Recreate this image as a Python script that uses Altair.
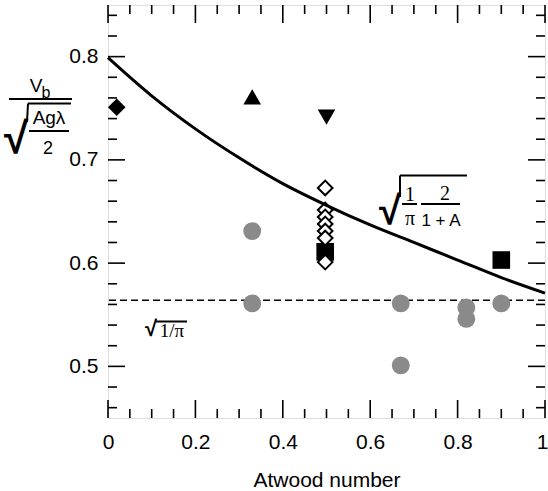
import altair as alt
import pandas as pd

# Model curve sqrt((1/pi) * 2/(1+A)) as drawn along the Atwood number
curve_A = [0.0, 0.1, 0.2, 0.3, 0.4, 0.5, 0.6, 0.7, 0.8, 0.9, 1.0]
curve_v = [0.799, 0.762, 0.730, 0.702, 0.677, 0.656, 0.637, 0.620, 0.603, 0.586, 0.571]

# Asymptotic value sqrt(1/pi)
limit_v = 0.564

# Grey circles
circle_A = [0.33, 0.33, 0.67, 0.67, 0.82, 0.82, 0.90]
circle_v = [0.631, 0.561, 0.561, 0.501, 0.557, 0.546, 0.561]

# Solid black symbols
solid_A = [0.02, 0.33, 0.50, 0.497, 0.90]
solid_v = [0.751, 0.761, 0.7415, 0.611, 0.603]
solid_shape = ["diamond", "triangle-up", "triangle-down", "square", "square"]

# Open diamonds
open_A = [0.497, 0.497, 0.497, 0.497, 0.497, 0.497, 0.497]
open_v = [0.6728, 0.6515, 0.6447, 0.6379, 0.6311, 0.6243, 0.601]

# Axis ticks
x_major = [0.0, 0.2, 0.4, 0.6, 0.8, 1.0]
x_minor = [0.05, 0.1, 0.15, 0.25, 0.3, 0.35, 0.45, 0.5, 0.55, 0.65, 0.7, 0.75, 0.85, 0.9, 0.95]
y_major = [0.5, 0.6, 0.7, 0.8]
y_minor = [0.46, 0.48, 0.52, 0.54, 0.56, 0.58, 0.62, 0.64, 0.66, 0.68,
           0.72, 0.74, 0.76, 0.78, 0.82, 0.84]

W, H = 437, 413
FONT = "Liberation Sans"
SERIF = "Liberation Serif"
ROOT_FONT = "Liberation Sans"

xs = alt.Scale(domain=[0, 1], nice=False, zero=False)
ys = alt.Scale(domain=[0.45, 0.85], nice=False, zero=False)

# the last x label sits against the right edge of the page
x_axis = alt.Axis(values=x_major, format="~g", tickSize=0, domain=False, grid=False,
                  labelFont=FONT, labelFontSize=21, labelColor="black", labelPadding=13,
                  labelAlign={"condition": {"test": "datum.value == 1", "value": "right"},
                              "value": "center"},
                  labelOffset={"condition": {"test": "datum.value == 1", "value": 3},
                               "value": 0},
                  title="Atwood number", titleFont=FONT, titleFontSize=21,
                  titleFontWeight="normal", titleColor="black", titlePadding=17,
                  labelFlush=False)
y_axis = alt.Axis(values=y_major, format=".1f", tickSize=0, domain=False, grid=False,
                  labelFont=FONT, labelFontSize=21, labelColor="black", labelPadding=10,
                  title=None)


def X(field="A"):
    return alt.X(f"{field}:Q", scale=xs, axis=x_axis)


def Y(field="v"):
    return alt.Y(f"{field}:Q", scale=ys, axis=y_axis)


curve_df = pd.DataFrame({"A": curve_A, "v": curve_v})
circ_df = pd.DataFrame({"A": circle_A, "v": circle_v})
solid_df = pd.DataFrame({"A": solid_A, "v": solid_v, "shape": solid_shape})
open_df = pd.DataFrame({"A": open_A, "v": open_v})

dashed = alt.Chart(pd.DataFrame({"v": [limit_v]})).mark_rule(
    color="black", strokeWidth=1.6, strokeDash=[7, 4]
).encode(y=Y())

circles = alt.Chart(circ_df).mark_point(
    shape="circle", filled=True, color="#8a8a8a", opacity=1, size=320
).encode(x=X(), y=Y())

solids = alt.Chart(solid_df).mark_point(
    filled=True, color="black", opacity=1, size=310
).encode(x=X(), y=Y(), shape=alt.Shape("shape:N", scale=None, legend=None))

opens = alt.Chart(open_df).mark_point(
    shape="diamond", filled=True, fill="white", stroke="black", strokeWidth=2,
    opacity=1, fillOpacity=1, size=215
).encode(x=X(), y=Y())

curve = alt.Chart(curve_df).mark_line(
    color="black", strokeWidth=3, interpolate="monotone"
).encode(x=X(), y=Y())


def tick_layer(values, orient, length):
    c = alt.Chart(pd.DataFrame({"A": values, "v": values})).mark_rule(
        color="black", strokeWidth=1.6)
    if orient == "bottom":
        return c.encode(x=X(), y=alt.value(H), y2=alt.value(H - length))
    if orient == "top":
        return c.encode(x=X(), y=alt.value(0), y2=alt.value(length))
    if orient == "left":
        return c.encode(y=Y(), x=alt.value(0), x2=alt.value(length))
    return c.encode(y=Y(), x=alt.value(W), x2=alt.value(W - length))


ticks = []
for side in ["bottom", "top"]:
    ticks.append(tick_layer(x_major, side, 18))
    ticks.append(tick_layer(x_minor, side, 9))
for side in ["left", "right"]:
    ticks.append(tick_layer(y_major, side, 17))
    ticks.append(tick_layer(y_minor, side, 9))


def label(text, x, y, size=18, font=FONT, weight="normal", align="center"):
    return alt.Chart(pd.DataFrame({"s": [text]})).mark_text(
        font=font, fontSize=size, fontWeight=weight, align=align,
        baseline="alphabetic", color="black"
    ).encode(text="s:N", x=alt.value(x), y=alt.value(y))


def bar(x1, x2, y, width=2):
    return alt.Chart(pd.DataFrame({"k": [0]})).mark_rule(
        color="black", strokeWidth=width
    ).encode(x=alt.value(x1), x2=alt.value(x2), y=alt.value(y))


def stroke(x1, y1, x2, y2, width=2):
    # straight pen stroke, used to lengthen the radical signs
    return alt.Chart(pd.DataFrame({"k": [0]})).mark_rule(
        color="black", strokeWidth=width
    ).encode(x=alt.value(x1), y=alt.value(y1), x2=alt.value(x2), y2=alt.value(y2))


# y-axis title: V_b / sqrt(A g lambda / 2)
ytitle = [
    label("V", -72, 87, 19),
    label("b", -62, 93, 16),
    bar(-99, -36, 94),
    label("√", -92, 148, 44, ROOT_FONT, "bold"),
    stroke(-81, 117, -80, 98.5),
    bar(-80, -37, 98.5),
    label("Agλ", -59, 119, 19),
    bar(-79, -39, 126),
    label("2", -60, 149, 18),
]

# curve annotation: sqrt( (1/pi) (2/(1+A)) )
curve_note = [
    label("√", 282, 219, 40, ROOT_FONT, "bold"),
    stroke(292, 192, 292, 170.5),
    bar(292, 359, 170.5),
    label("1", 302, 196, 20, SERIF),
    bar(294, 309, 199),
    label("π", 302, 220, 20, SERIF),
    label("2", 337, 195, 20, SERIF),
    bar(313, 352, 199),
    label("1 + A", 333, 221, 17, FONT),
]

# limit annotation: sqrt(1/pi)
limit_note = [
    label("√", 43, 331, 22, ROOT_FONT, "bold"),
    bar(48, 79, 316.5),
    label("1/π", 64, 332, 19, SERIF),
]

chart = alt.layer(
    dashed, circles, solids, opens, curve, *ticks,
    *ytitle, *curve_note, *limit_note
).properties(
    width=W, height=H,
    autosize=alt.AutoSizeParams(type="none"),
    padding={"left": 108, "top": 5, "right": 3, "bottom": 73},
).configure_view(
    stroke="black", strokeWidth=2
).configure(background="white")

chart.save("out.html", embed_options={"renderer": "svg", "actions": False})
